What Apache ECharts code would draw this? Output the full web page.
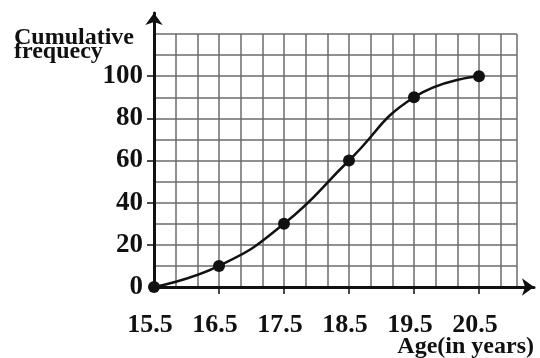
<!DOCTYPE html>
<html>
<head>
<meta charset="utf-8">
<script src="https://cdn.jsdelivr.net/npm/echarts@6/dist/echarts.min.js"></script>
<style>
  html, body { margin: 0; padding: 0; background: #fff; }
  #chart { width: 540px; height: 358px; }
</style>
</head>
<body>
<div id="chart"></div>
<script>
// ogive data: upper class boundaries vs cumulative frequency
const ages = [15.5, 16.5, 17.5, 18.5, 19.5, 20.5];
const cumFreq = [0, 10, 30, 60, 90, 100];

// tick / label positions
const xLabelValues = [15.5, 16.5, 17.5, 18.5, 19.5, 20.5];
const xTickValues = [16.5, 17.5, 18.5, 19.5, 20.5];
const yLabelValues = [0, 20, 40, 60, 80, 100];
const yTickValues = [20, 40, 60, 80, 100];

const serif = "'Liberation Serif', 'Times New Roman', serif";
const ink = '#111';
const gridColor = '#6b6b6b';

const X_MIN = 15.5, X_MAX = 21.085;
const Y_MIN = 0, Y_MAX = 120;

const chart = echarts.init(document.getElementById('chart'));

// axis that only draws the squared paper
const paperAxis = (gridIndex, position, min, max, interval) => ({
  type: 'value', gridIndex, position, min, max, interval,
  axisLine: { show: false }, axisTick: { show: false }, axisLabel: { show: false },
  splitLine: { show: true, lineStyle: { color: gridColor, width: 1.5 } }
});

// axis that only draws the long arrowed line
const arrowAxis = (gridIndex, position) => ({
  type: 'value', gridIndex, position, min: 0, max: 1,
  axisLine: { show: true, onZero: false, symbol: ['none', 'arrow'], symbolSize: [13, 12], lineStyle: { color: ink, width: 3 } },
  axisTick: { show: false }, axisLabel: { show: false }, splitLine: { show: false }
});

const option = {
  animation: false,
  backgroundColor: '#fff',
  title: [
    {
      text: 'Cumulative\nfrequecy',
      left: 14,
      top: 31,
      padding: 0,
      textStyle: { fontFamily: serif, fontWeight: 'bold', fontSize: 24, lineHeight: 14, color: ink }
    },
    {
      text: 'Age(in years)',
      right: 6,
      top: 337,
      padding: 0,
      textStyle: { fontFamily: serif, fontWeight: 'bold', fontSize: 24, lineHeight: 20, color: ink }
    }
  ],
  grid: [
    { left: 154, top: 34, width: 363, height: 253, outerBoundsMode: 'none' },
    { left: 154, top: 13, width: 380, height: 274, outerBoundsMode: 'none' }
  ],
  xAxis: [
    paperAxis(0, 'bottom', X_MIN, X_MAX, 1 / 3),
    {
      type: 'value', gridIndex: 0, position: 'bottom', offset: 0, min: X_MIN, max: X_MAX,
      axisLine: { show: false, onZero: false },
      axisTick: { show: true, customValues: xTickValues, length: 7, lineStyle: { color: ink, width: 1.5 } },
      axisLabel: {
        customValues: xLabelValues,
        margin: 25,
        padding: [0, 8, 0, 0],
        fontFamily: serif, fontWeight: 'bold', fontSize: 26, color: ink,
        formatter: v => v.toFixed(1)
      },
      splitLine: { show: false }
    },
    arrowAxis(1, 'bottom')
  ],
  yAxis: [
    paperAxis(0, 'left', Y_MIN, Y_MAX, 10),
    {
      type: 'value', gridIndex: 0, position: 'left', offset: 0, min: Y_MIN, max: Y_MAX,
      axisLine: { show: false, onZero: false },
      axisTick: { show: true, customValues: yTickValues, length: 7, lineStyle: { color: ink, width: 1.5 } },
      axisLabel: {
        customValues: yLabelValues,
        margin: 11,
        fontFamily: serif, fontWeight: 'bold', fontSize: 27, color: ink
      },
      splitLine: { show: false }
    },
    arrowAxis(1, 'left')
  ],
  series: [
    {
      type: 'line',
      xAxisIndex: 0,
      yAxisIndex: 0,
      data: ages.map((a, i) => [a, cumFreq[i]]),
      smooth: 0.5,
      symbol: 'circle',
      symbolSize: 12,
      lineStyle: { color: ink, width: 2.5 },
      itemStyle: { color: ink },
      z: 5
    }
  ]
};

chart.setOption(option);
</script>
</body>
</html>
